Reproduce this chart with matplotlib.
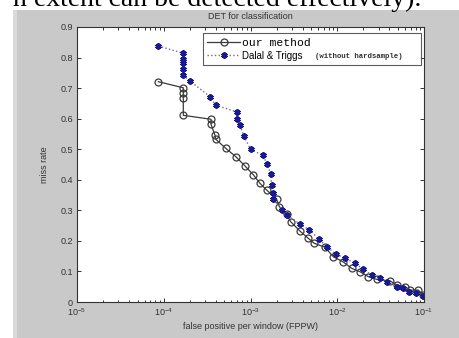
import numpy as np
import matplotlib
matplotlib.use('Agg')
from matplotlib import pyplot as plt
from matplotlib.patches import Rectangle
from matplotlib.ticker import LogLocator, NullFormatter, FixedLocator

# our method (black circles, solid)
ours_fppw = [8.65e-5, 1.68e-4, 1.68e-4, 1.68e-4, 1.68e-4, 3.51e-4, 3.51e-4, 3.90e-4,
             4.00e-4, 5.18e-4, 6.81e-4, 8.65e-4, 1.08e-3, 1.29e-3, 1.54e-3, 2.00e-3,
             2.15e-3, 2.61e-3, 2.90e-3, 3.72e-3, 4.65e-3, 5.44e-3, 7.23e-3, 9.02e-3,
             1.16e-2, 1.47e-2, 1.83e-2, 2.28e-2, 2.85e-2, 4.06e-2, 4.84e-2, 6.04e-2,
             6.90e-2, 8.59e-2, 9.82e-2]
ours_miss = [0.721, 0.701, 0.683, 0.668, 0.611, 0.598, 0.581, 0.545,
             0.532, 0.503, 0.475, 0.445, 0.416, 0.388, 0.366, 0.336,
             0.312, 0.287, 0.263, 0.232, 0.208, 0.192, 0.179, 0.148,
             0.132, 0.110, 0.099, 0.083, 0.074, 0.069, 0.056, 0.050,
             0.039, 0.039, 0.023]

# Dalal & Triggs (blue stars, dotted)
dt_fppw = [8.65e-5, 1.68e-4, 1.68e-4, 1.68e-4, 1.68e-4, 1.68e-4, 2.01e-4, 3.41e-4,
           4.00e-4, 6.93e-4, 6.93e-4, 7.57e-4, 8.41e-4, 1.00e-3, 1.38e-3, 1.56e-3,
           1.71e-3, 1.75e-3, 1.80e-3, 1.83e-3, 2.29e-3, 2.61e-3, 3.72e-3, 4.76e-3,
           6.21e-3, 7.55e-3, 9.68e-3, 1.23e-2, 1.60e-2, 2.00e-2, 2.49e-2, 3.11e-2,
           3.72e-2, 4.84e-2, 5.68e-2, 6.78e-2, 8.09e-2, 9.82e-2]
dt_miss = [0.838, 0.814, 0.796, 0.783, 0.761, 0.742, 0.723, 0.672,
           0.644, 0.622, 0.600, 0.578, 0.543, 0.500, 0.480, 0.452,
           0.418, 0.383, 0.356, 0.337, 0.301, 0.285, 0.255, 0.236,
           0.205, 0.181, 0.157, 0.143, 0.127, 0.107, 0.088, 0.078,
           0.066, 0.050, 0.045, 0.034, 0.031, 0.021]

y_ticks = [0, 0.1, 0.2, 0.3, 0.4, 0.5, 0.6, 0.7, 0.8, 0.9]

W, H = 459, 338
plt.rcParams['font.family'] = ['Liberation Sans', 'DejaVu Sans']
fig = plt.figure(figsize=(W / 100, H / 100), dpi=100, facecolor='white')

# matlab figure window background
fig.patches.append(Rectangle((13 / W, 0), 1, (H - 10) / H, transform=fig.transFigure,
                             facecolor='#c9c9c9', edgecolor='none', zorder=-2))
fig.patches.append(Rectangle((13 / W, 0), 4 / W, (H - 10) / H, transform=fig.transFigure,
                             facecolor='#dadada', edgecolor='none', zorder=-1))

# cut-off line of paper text on top
fig.text(13 / W, 1 - 6 / H, 'n extent can be detected effectively).', family='Liberation Serif',
         fontsize=20, color='black', va='baseline', ha='left', zorder=5)

ax = fig.add_axes([77 / W, 1 - 302 / H, 347 / W, 275 / H])
ax.set_facecolor('white')

ax.plot(ours_fppw, ours_miss, '-', color='#3a3a3a', lw=0.9, marker='o', ms=5,
        mfc='none', mec='#3a3a3a', mew=0.9, label='our method')
ax.plot(dt_fppw, dt_miss, ':', color='#707088', lw=1.0, marker=(6, 2, 0), ms=4.5,
        mfc='#1a1a90', mec='#1a1a90', mew=1.5, label='Dalal & Triggs')

ax.set_xscale('log')
ax.set_xlim(1e-5, 1e-1)
ax.set_ylim(0, 0.9)
ax.yaxis.set_major_locator(FixedLocator(y_ticks))
ax.set_yticklabels(['%g' % v for v in y_ticks])
ax.xaxis.set_major_locator(LogLocator(base=10, numticks=10))
ax.xaxis.set_minor_locator(LogLocator(base=10, subs=np.arange(2, 10), numticks=10))
ax.xaxis.set_minor_formatter(NullFormatter())

ax.tick_params(which='both', direction='in', top=True, right=True,
               colors='#333333', labelsize=6.5, width=0.7)
ax.tick_params(which='major', length=3, pad=3)
ax.tick_params(which='minor', length=1.8)
for s in ax.spines.values():
    s.set_color('#333333')
    s.set_linewidth(0.8)

ax.set_title('DET for classification', fontsize=6.5, color='#333333', pad=6)
ax.set_xlabel('false positive per window (FPPW)', fontsize=6.5, color='#333333', labelpad=3)
ax.set_ylabel('miss rate', fontsize=6.5, color='#333333', labelpad=8)

leg = ax.legend(loc='upper left', bbox_to_anchor=(0.362, 0.856, 0.628, 0.121),
                mode='expand', frameon=True, fancybox=False, prop={'size': 7},
                handlelength=3.4, handletextpad=0.2, borderpad=0.45,
                labelspacing=0.3, borderaxespad=0)
leg.get_frame().set_edgecolor('#333333')
leg.get_frame().set_linewidth(0.8)
leg.texts[0].set_family('Liberation Mono')
leg.texts[0].set_fontsize(8.2)
ax.text(0.686, 0.892, '(without hardsample)', transform=ax.transAxes,
        family='Liberation Mono', fontweight='bold', fontsize=5.3, color='#333333',
        va='center', ha='left', zorder=10)

fig.savefig('out.png', dpi=100, facecolor=fig.get_facecolor())
